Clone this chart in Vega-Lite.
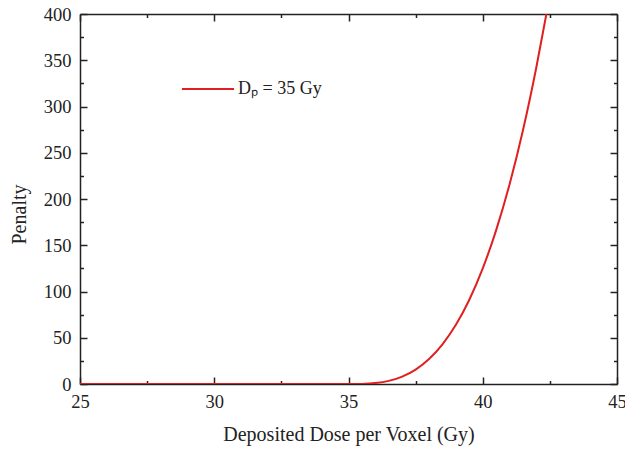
{
  "$schema": "https://vega.github.io/schema/vega-lite/v6.json",
  "width": 537,
  "height": 370,
  "autosize": "none",
  "padding": {"left": 80, "top": 14, "right": 8, "bottom": 66},
  "background": "white",
  "config": {
    "view": {"stroke": null},
    "font": "Liberation Serif",
    "axis": {
      "grid": false,
      "domainColor": "#222222",
      "domainWidth": 1.5,
      "tickColor": "#222222",
      "tickWidth": 1.5,
      "labelFont": "Liberation Serif",
      "labelFontSize": 18.5,
      "labelColor": "#222222",
      "titleFont": "Liberation Serif",
      "titleFontSize": 20,
      "titleFontWeight": "normal",
      "titleColor": "#222222",
      "labelFlush": false,
      "labelOverlap": false
    }
  },
  "data": {
    "values": [
      {"dose": 25, "penalty": 0},
      {"dose": 30, "penalty": 0},
      {"dose": 35, "penalty": 0},
      {"dose": 35.5, "penalty": 0.125},
      {"dose": 36, "penalty": 1},
      {"dose": 36.5, "penalty": 3.38},
      {"dose": 37, "penalty": 8},
      {"dose": 37.5, "penalty": 15.6},
      {"dose": 38, "penalty": 27},
      {"dose": 38.5, "penalty": 42.9},
      {"dose": 39, "penalty": 64},
      {"dose": 39.5, "penalty": 91.1},
      {"dose": 40, "penalty": 125},
      {"dose": 40.5, "penalty": 166.4},
      {"dose": 41, "penalty": 216},
      {"dose": 41.5, "penalty": 274.6},
      {"dose": 42, "penalty": 343},
      {"dose": 42.37, "penalty": 400}
    ]
  },
  "layer": [
    {
      "mark": {"type": "line", "strokeWidth": 2, "interpolate": "monotone", "clip": true},
      "encoding": {
        "x": {
          "field": "dose",
          "type": "quantitative",
          "scale": {"domain": [25, 45], "nice": false, "zero": false},
          "axis": {
            "orient": "bottom",
            "title": "Deposited Dose per Voxel (Gy)",
            "values": [25, 27.5, 30, 32.5, 35, 37.5, 40, 42.5, 45],
            "labelExpr": "datum.value % 5 === 0 ? datum.label : ''",
            "tickSize": {"condition": {"test": "datum.value % 5 !== 0", "value": -3.5}, "value": -7},
            "labelPadding": 15,
            "titlePadding": 10
          }
        },
        "y": {
          "field": "penalty",
          "type": "quantitative",
          "scale": {"domain": [0, 400], "nice": false},
          "axis": {
            "orient": "left",
            "title": "Penalty",
            "values": [0, 25, 50, 75, 100, 125, 150, 175, 200, 225, 250, 275, 300, 325, 350, 375, 400],
            "labelExpr": "datum.value % 50 === 0 ? datum.label : ''",
            "tickSize": {"condition": {"test": "datum.value % 50 !== 0", "value": -3.5}, "value": -7},
            "labelPadding": 16,
            "titlePadding": 14,
            "titleY": 200
          }
        },
        "color": {
          "datum": "Dₚ = 35 Gy",
          "type": "nominal",
          "scale": {"range": ["#e02020"]},
          "legend": {
            "title": null,
            "orient": "none",
            "legendX": 101,
            "legendY": 48,
            "padding": 0,
            "symbolType": "stroke",
            "symbolSize": 2704,
            "symbolStrokeWidth": 2,
            "labelFont": "Liberation Serif",
            "labelFontSize": 18,
            "labelColor": "#222222",
            "labelOffset": 3
          }
        }
      }
    },
    {
      "mark": {"type": "line", "strokeOpacity": 0},
      "encoding": {
        "x": {
          "field": "dose",
          "type": "quantitative",
          "scale": {"domain": [25, 45], "nice": false, "zero": false},
          "axis": {
            "orient": "top",
            "title": null,
            "labels": false,
            "values": [25, 27.5, 30, 32.5, 35, 37.5, 40, 42.5, 45],
            "tickSize": {"condition": {"test": "datum.value % 5 !== 0", "value": -3.5}, "value": -7}
          }
        },
        "y": {
          "field": "penalty",
          "type": "quantitative",
          "scale": {"domain": [0, 400], "nice": false},
          "axis": {
            "orient": "right",
            "title": null,
            "labels": false,
            "values": [0, 25, 50, 75, 100, 125, 150, 175, 200, 225, 250, 275, 300, 325, 350, 375, 400],
            "tickSize": {"condition": {"test": "datum.value % 50 !== 0", "value": -3.5}, "value": -7}
          }
        }
      }
    }
  ],
  "resolve": {"axis": {"x": "independent", "y": "independent"}}
}
